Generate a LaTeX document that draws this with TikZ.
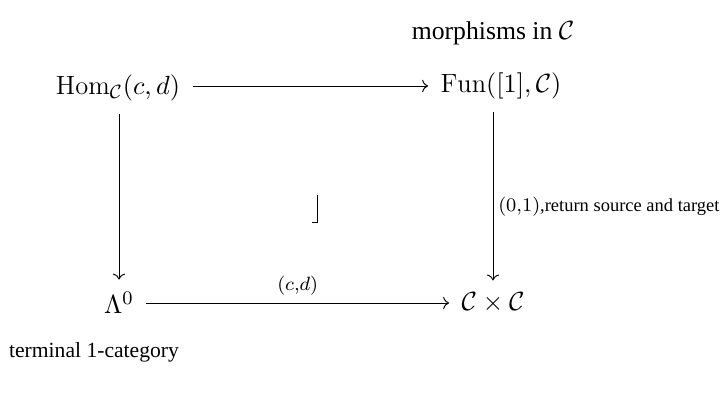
\documentclass[tikz,border=0pt]{standalone}
\usepackage{amsmath,amssymb}
\usepackage{fontspec}
\newfontfamily\tnr{Liberation Serif}
\usetikzlibrary{arrows.meta}
\begin{document}
\begin{tikzpicture}[x=0.41667pt,y=-0.41667pt,
  >={Computer Modern Rightarrow},
  obj/.style={inner sep=5pt, font=\fontsize{11}{13}\selectfont},
  arr/.style={->, line width=0.4pt},
  txt/.style={font=\tnr}]
\useasboundingbox (0,0) rectangle (728,409);
\node[txt, font=\tnr\fontsize{10.7}{13}\selectfont] (mor) at (493,33) {morphisms in $\mathcal{C}$};
\node[txt, font=\tnr\fontsize{9}{11}\selectfont] (term) at (94,352) {terminal 1-category};
\node[obj] (hom) at (118,88) {$\mathrm{Hom}_{\mathcal{C}}(c,d)$};
\node[obj] (fun) at (501,86) {$\mathrm{Fun}([1],\mathcal{C})$};
\node[obj] (lam) at (119,303) {$\Lambda^0$};
\node[obj] (cc) at (493,303) {$\mathcal{C}\times\mathcal{C}$};
\draw[arr] (hom.east |- fun) -- (fun);
\draw[arr] (hom.south -| lam.north) -- (lam);
\draw[arr] (fun.south -| cc.north) -- node[pos=0.565, right, font=\tnr\fontsize{7.7}{9}\selectfont, inner sep=2pt] {$(0{,}1)$,return source and target} (cc);
\draw[arr] (lam) -- node[above, inner sep=3pt, font=\fontsize{11}{13}\selectfont] {$\scriptstyle (c,d)$} (cc);
\draw[line width=0.4pt] (317,195) -- (317,222) -- (312,222);
\end{tikzpicture}
\end{document}
